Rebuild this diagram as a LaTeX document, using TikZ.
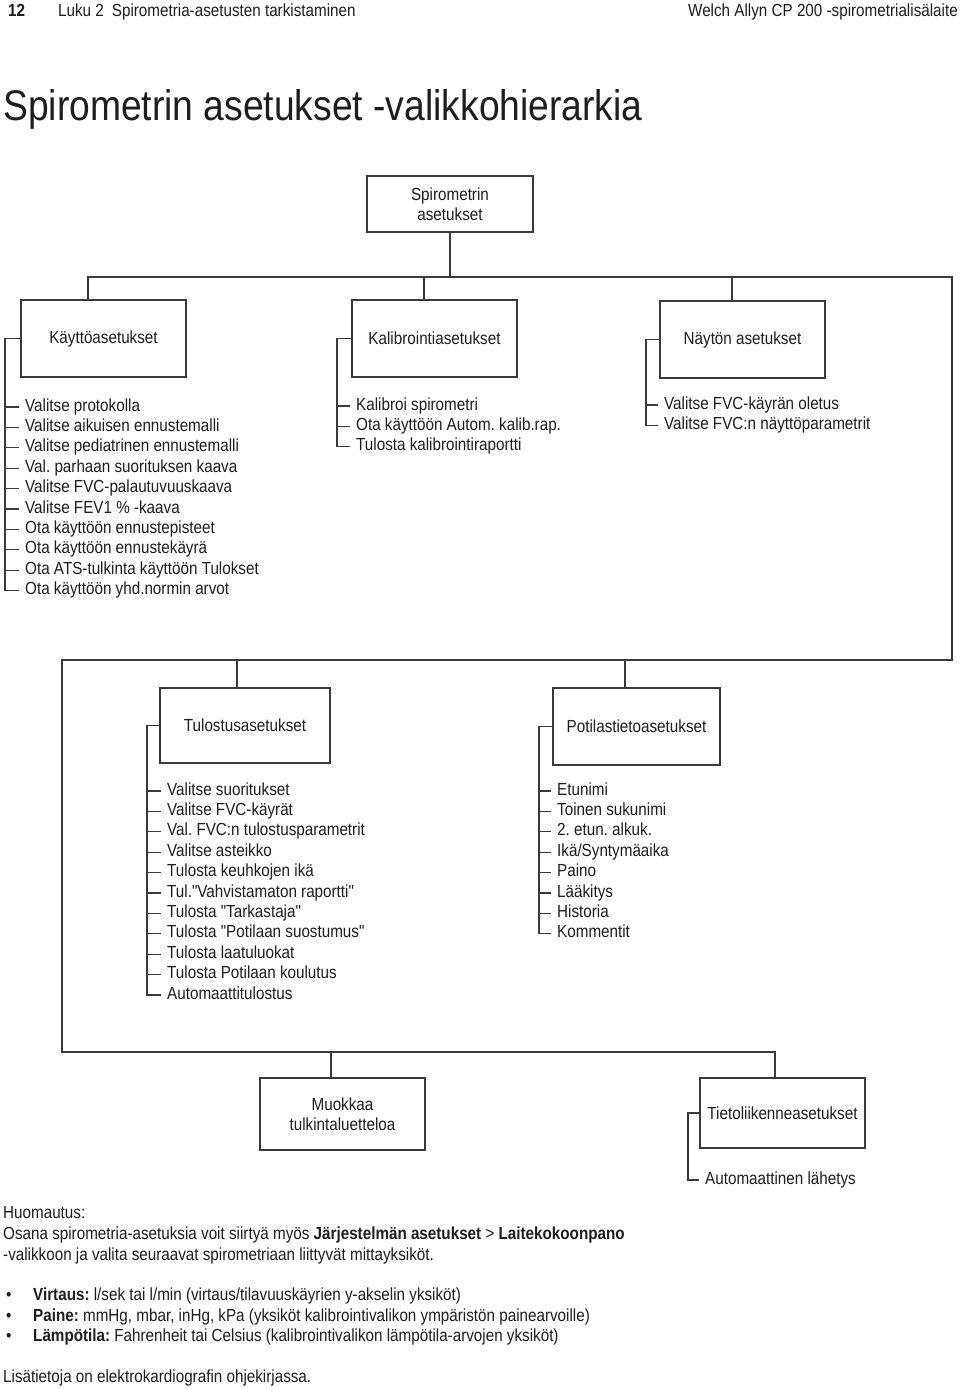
\documentclass[tikz,border=0pt]{standalone}
\usepackage{fontspec}
\setmainfont{Liberation Sans}[FakeStretch=0.87, Ligatures=TeXOff]
\newcommand{\itemfont}{\fontsize{17.5}{20.4}\selectfont}
\newcommand{\titlefont}{\fontsize{42.8}{48}\selectfont}
\definecolor{linec}{HTML}{3A3A3A}
\definecolor{textc}{HTML}{1E1E1E}
\begin{document}
\frenchspacing
\begin{tikzpicture}[x=1pt,y=-1pt,
  conn/.style={draw=linec, line width=1.2pt},
  box/.style={draw=linec, line width=1.3pt, minimum width=165pt, minimum height=77pt,
    inner sep=0pt, align=center, font=\itemfont, text=textc},
  item/.style={anchor=west, inner xsep=6pt, inner ysep=0pt, text height=12pt,
    text depth=4pt, font=\itemfont, text=textc},
  txt/.style={anchor=base west, inner sep=0pt, font=\itemfont, text=textc}]
\fill[white] (0,0) rectangle (960,1389);
\useasboundingbox (0,0) rectangle (960,1389);

% header
\node[txt, font=\itemfont\bfseries] (pg) at (8,17) {12};
\node[txt] (ch) at (58,17) {Luku 2\hspace{8pt}Spirometria-asetusten tarkistaminen};
\node[txt, anchor=base east] (pr) at (958,17) {Welch Allyn CP 200 -spirometrialisälaite};
\node[txt, font=\titlefont] (title) at (3,120) {Spirometrin asetukset -valikkohierarkia};

% boxes
\node[box, minimum width=166pt, minimum height=56pt] (root) at (450,204) {Spirometrin\\asetukset};
\node[box] (k1) at (103.5,338.5) {Käyttöasetukset};
\node[box] (k2) at (434.5,338.5) {Kalibrointiasetukset};
\node[box] (k3) at (742.5,339.5) {Näytön asetukset};
\node[box, minimum width=170pt, minimum height=75pt] (t1) at (245,725.5) {Tulostusasetukset};
\node[box, minimum width=167pt] (t2) at (636.5,726.5) {Potilastietoasetukset};
\node[box, minimum height=72pt] (m1) at (342.5,1114) {Muokkaa\\tulkintaluetteloa};
\node[box, minimum height=70pt] (m2) at (782.5,1113) {Tietoliikenneasetukset};

% trunk
\coordinate (h1L) at (88,277);
\coordinate (h1R) at (952,277);
\coordinate (d2) at (424,277);
\coordinate (d3) at (732,277);
\coordinate (c2R) at (952,660);
\coordinate (c2L) at (62,660);
\coordinate (e1) at (237,660);
\coordinate (e2) at (625,660);
\coordinate (c3L) at (62,1052);
\coordinate (c3R) at (775,1052);
\coordinate (f1) at (331,1052);

\draw[conn] (root.south) -- (root.south |- h1L);
\draw[conn] (h1L |- k1.north) -- (h1L) -- (h1R) -- (c2R) -- (c2L) -- (c3L) -- (c3R) -- (c3R |- m2.north);
\draw[conn] (d2) -- (d2 |- k2.north);
\draw[conn] (d3) -- (d3 |- k3.north);
\draw[conn] (e1) -- (e1 |- t1.north);
\draw[conn] (e2) -- (e2 |- t2.north);
\draw[conn] (f1) -- (f1 |- m1.north);

% item lists
\foreach \t [count=\i] in {Valitse protokolla, Valitse aikuisen ennustemalli, Valitse pediatrinen ennustemalli,
  Val. parhaan suorituksen kaava, Valitse FVC-palautuvuuskaava, Valitse FEV1 \% -kaava,
  Ota käyttöön ennustepisteet, Ota käyttöön ennustekäyrä, Ota ATS-tulkinta käyttöön Tulokset,
  Ota käyttöön yhd.normin arvot}
  \node[item] (a\i) at (19,{407+20.4*(\i-1)}) {\t};
\coordinate (b1) at (5,0);
\draw[conn] (k1.west) -- (k1.west -| b1) |- (a10.west);
\foreach \i in {1,...,9} \draw[conn] (a\i.west -| b1) -- (a\i.west);

\foreach \t [count=\i] in {Kalibroi spirometri, Ota käyttöön Autom. kalib.rap., Tulosta kalibrointiraportti}
  \node[item] (b\i) at (350,{406+20.4*(\i-1)}) {\t};
\coordinate (b2x) at (337,0);
\draw[conn] (k2.west) -- (k2.west -| b2x) |- (b3.west);
\foreach \i in {1,2} \draw[conn] (b\i.west -| b2x) -- (b\i.west);

\foreach \t [count=\i] in {Valitse FVC-käyrän oletus, Valitse FVC:n näyttöparametrit}
  \node[item] (c\i) at (658,{405+20.4*(\i-1)}) {\t};
\coordinate (b3x) at (646,0);
\draw[conn] (k3.west) -- (k3.west -| b3x) |- (c2.west);
\draw[conn] (c1.west -| b3x) -- (c1.west);

\foreach \t [count=\i] in {Valitse suoritukset, Valitse FVC-käyrät, Val. FVC:n tulostusparametrit,
  Valitse asteikko, Tulosta keuhkojen ikä, Tul."Vahvistamaton raportti", Tulosta "Tarkastaja",
  Tulosta "Potilaan suostumus", Tulosta laatuluokat, Tulosta Potilaan koulutus, Automaattitulostus}
  \node[item] (p\i) at (161,{791+20.4*(\i-1)}) {\t};
\coordinate (b4x) at (147,0);
\draw[conn] (t1.west) -- (t1.west -| b4x) |- (p11.west);
\foreach \i in {1,...,10} \draw[conn] (p\i.west -| b4x) -- (p\i.west);

\foreach \t [count=\i] in {Etunimi, Toinen sukunimi, 2. etun. alkuk., Ikä/Syntymäaika, Paino,
  Lääkitys, Historia, Kommentit}
  \node[item] (q\i) at (551,{791+20.4*(\i-1)}) {\t};
\coordinate (b5x) at (539,0);
\draw[conn] (t2.west) -- (t2.west -| b5x) |- (q8.west);
\foreach \i in {1,...,7} \draw[conn] (q\i.west -| b5x) -- (q\i.west);

\node[item] (r1) at (699,1180) {Automaattinen lähetys};
\coordinate (b6x) at (688,0);
\draw[conn] (m2.west) -- (m2.west -| b6x) |- (r1.west);

% footer
\node[txt] (n1) at (3,1218) {Huomautus:};
\node[txt] (n2) at (3,1239) {Osana spirometria-asetuksia voit siirtyä myös \textbf{Järjestelmän asetukset} > \textbf{Laitekokoonpano}};
\node[txt] (n3) at (3,1260) {-valikkoon ja valita seuraavat spirometriaan liittyvät mittayksiköt.};
\node[txt] (u1b) at (6,1300) {•};
\node[txt] (u1) at (33,1300) {\textbf{Virtaus:} l/sek tai l/min (virtaus/tilavuuskäyrien y-akselin yksiköt)};
\node[txt] (u2b) at (6,1321) {•};
\node[txt] (u2) at (33,1321) {\textbf{Paine:} mmHg, mbar, inHg, kPa (yksiköt kalibrointivalikon ympäristön painearvoille)};
\node[txt] (u3b) at (6,1341) {•};
\node[txt] (u3) at (33,1341) {\textbf{Lämpötila:} Fahrenheit tai Celsius (kalibrointivalikon lämpötila-arvojen yksiköt)};
\node[txt] (n4) at (3,1382) {Lisätietoja on elektrokardiografin ohjekirjassa.};
\end{tikzpicture}
\end{document}
